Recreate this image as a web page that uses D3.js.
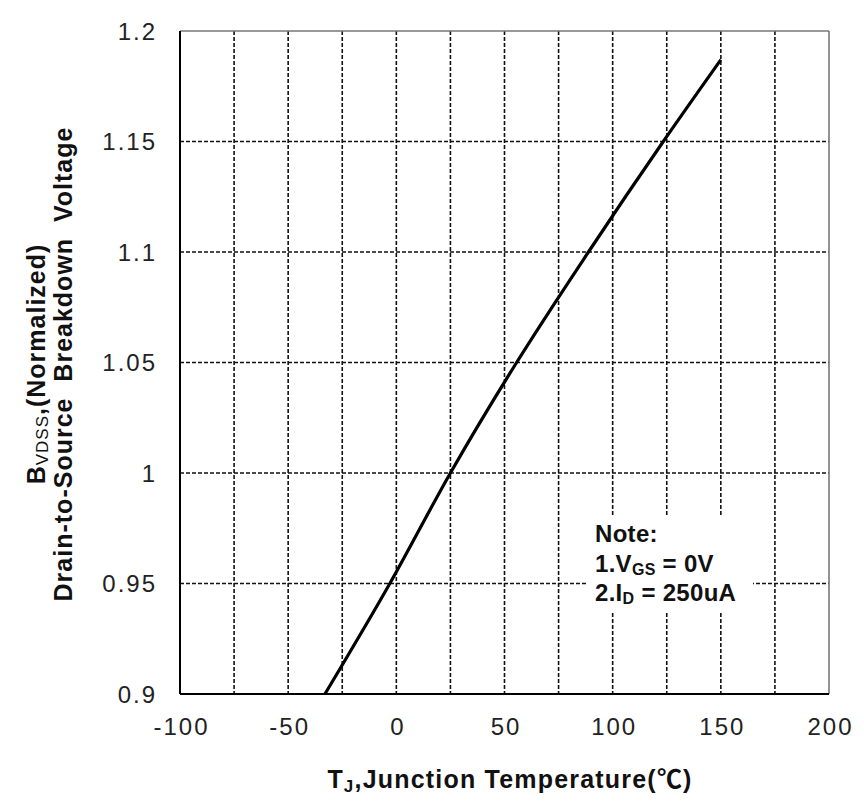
<!DOCTYPE html>
<html>
<head>
<meta charset="utf-8">
<script src="https://cdn.jsdelivr.net/npm/d3@7"></script>
<style>
  body { margin: 0; background: #fff; }
  svg text { font-family: Arial, "Liberation Sans", sans-serif; }
</style>
</head>
<body>
<svg id="chart" width="864" height="801"></svg>
<script>
// Data
const tempC = [-33, -3, 25, 55.6, 88.8, 123.4, 150];
const bvdss = [0.9, 0.95, 1.0, 1.05, 1.1, 1.15, 1.187];
const xTicks = [-100, -50, 0, 50, 100, 150, 200];
const xGrid = [-75, -50, -25, 0, 25, 50, 75, 100, 125, 150, 175];
const yTicks = [0.9, 0.95, 1, 1.05, 1.1, 1.15, 1.2];
const yGrid = [0.95, 1, 1.05, 1.1, 1.15];

const svg = d3.select("#chart");
const L = 180, R = 829, T = 31, B = 694;
const x = d3.scaleLinear().domain([-100, 200]).range([L, R]);
const y = d3.scaleLinear().domain([0.9, 1.2]).range([B, T]);

// grid
svg.append("g").selectAll("line").data(xGrid).join("line")
  .attr("x1", d => x(d)).attr("x2", d => x(d)).attr("y1", T).attr("y2", B)
  .attr("stroke", "#111").attr("stroke-width", 1.6).attr("stroke-dasharray", "4,2");
svg.append("g").selectAll("line").data(yGrid).join("line")
  .attr("x1", L).attr("x2", R).attr("y1", d => y(d)).attr("y2", d => y(d))
  .attr("stroke", "#111").attr("stroke-width", 1.6).attr("stroke-dasharray", "4,2");

// frame
svg.append("line").attr("x1", L).attr("x2", R).attr("y1", T).attr("y2", T).attr("stroke", "#777").attr("stroke-width", 1.6);
svg.append("line").attr("x1", R).attr("x2", R).attr("y1", T).attr("y2", B).attr("stroke", "#777").attr("stroke-width", 1.6);
svg.append("line").attr("x1", L).attr("x2", L).attr("y1", T).attr("y2", B).attr("stroke", "#000").attr("stroke-width", 2);
svg.append("line").attr("x1", L).attr("x2", R).attr("y1", B).attr("y2", B).attr("stroke", "#000").attr("stroke-width", 2);

// axes labels via d3 axes
const xAxis = d3.axisBottom(x).tickValues(xTicks).tickSize(0).tickPadding(0).tickFormat(d => String(d));
const gx = svg.append("g").attr("transform", `translate(0,${B})`).call(xAxis);
gx.select(".domain").remove();
gx.selectAll("text").attr("y", 41).attr("dy", 0).attr("dx", 1).attr("font-size", 24).attr("letter-spacing", "2px")
  .attr("fill", "#222").attr("font-family", "Arial, 'Liberation Sans', sans-serif");

const yAxis = d3.axisLeft(y).tickValues(yTicks).tickSize(0).tickPadding(0).tickFormat(d => String(d));
const gy = svg.append("g").attr("transform", `translate(${L},0)`).call(yAxis);
gy.select(".domain").remove();
gy.selectAll("text").attr("x", -23).attr("dy", "0.35em").attr("font-size", 24).attr("letter-spacing", "2px")
  .attr("fill", "#222").attr("font-family", "Arial, 'Liberation Sans', sans-serif");

// curve
const pts = tempC.map((t, i) => [t, bvdss[i]]);
svg.append("path").datum(pts)
  .attr("d", d3.line().x(d => x(d[0])).y(d => y(d[1])).curve(d3.curveMonotoneX))
  .attr("fill", "none").attr("stroke", "#000").attr("stroke-width", 3.2);

// y title
const yt = svg.append("g").attr("transform", "translate(0,364)");
const t1 = yt.append("text").attr("transform", "translate(45,0) rotate(-90)")
  .attr("text-anchor", "middle").attr("font-weight", "bold").attr("font-size", 25)
  .attr("letter-spacing", "1px").attr("fill", "#111");
t1.append("tspan").text("B");
t1.append("tspan").attr("font-size", 17).attr("font-weight", "normal").attr("dy", 3).text("VDSS");
t1.append("tspan").attr("dy", -3).text(",(Normalized)");
yt.append("text").attr("transform", "translate(72,0) rotate(-90)")
  .attr("text-anchor", "middle").attr("font-weight", "bold").attr("font-size", 25)
  .attr("letter-spacing", "1px").attr("fill", "#111")
  .attr("xml:space", "preserve").style("white-space", "pre")
  .text("Drain-to-Source  Breakdown  Voltage");

// x title
const xt = svg.append("text").attr("x", 510).attr("y", 788).attr("text-anchor", "middle")
  .attr("font-weight", "bold").attr("font-size", 25).attr("letter-spacing", "1.2px").attr("fill", "#111");
xt.append("tspan").text("T");
xt.append("tspan").attr("font-size", 17).attr("dy", 4).text("J");
xt.append("tspan").attr("dy", -4).text(",Junction Temperature(");
xt.append("tspan").attr("font-family", "'Noto Sans CJK SC', sans-serif").text("℃");
xt.append("tspan").text(")");

// note (white backing over the grid)
const nx = 595;
svg.append("rect").attr("x", 588).attr("y", 516).attr("width", 165).attr("height", 96).attr("fill", "#fff");
const note = svg.append("g").attr("font-weight", "bold").attr("font-size", 24).attr("letter-spacing", "0.3px").attr("fill", "#111");
note.append("text").attr("x", nx).attr("y", 542).text("Note:");
const n1 = note.append("text").attr("x", nx).attr("y", 572);
n1.append("tspan").text("1.V");
n1.append("tspan").attr("font-size", 16).attr("dy", 3).text("GS");
n1.append("tspan").attr("dy", -3).text(" = 0V");
const n2 = note.append("text").attr("x", nx).attr("y", 601);
n2.append("tspan").text("2.I");
n2.append("tspan").attr("font-size", 16).attr("dy", 3).text("D");
n2.append("tspan").attr("dy", -3).text(" = 250uA");
</script>
</body>
</html>
